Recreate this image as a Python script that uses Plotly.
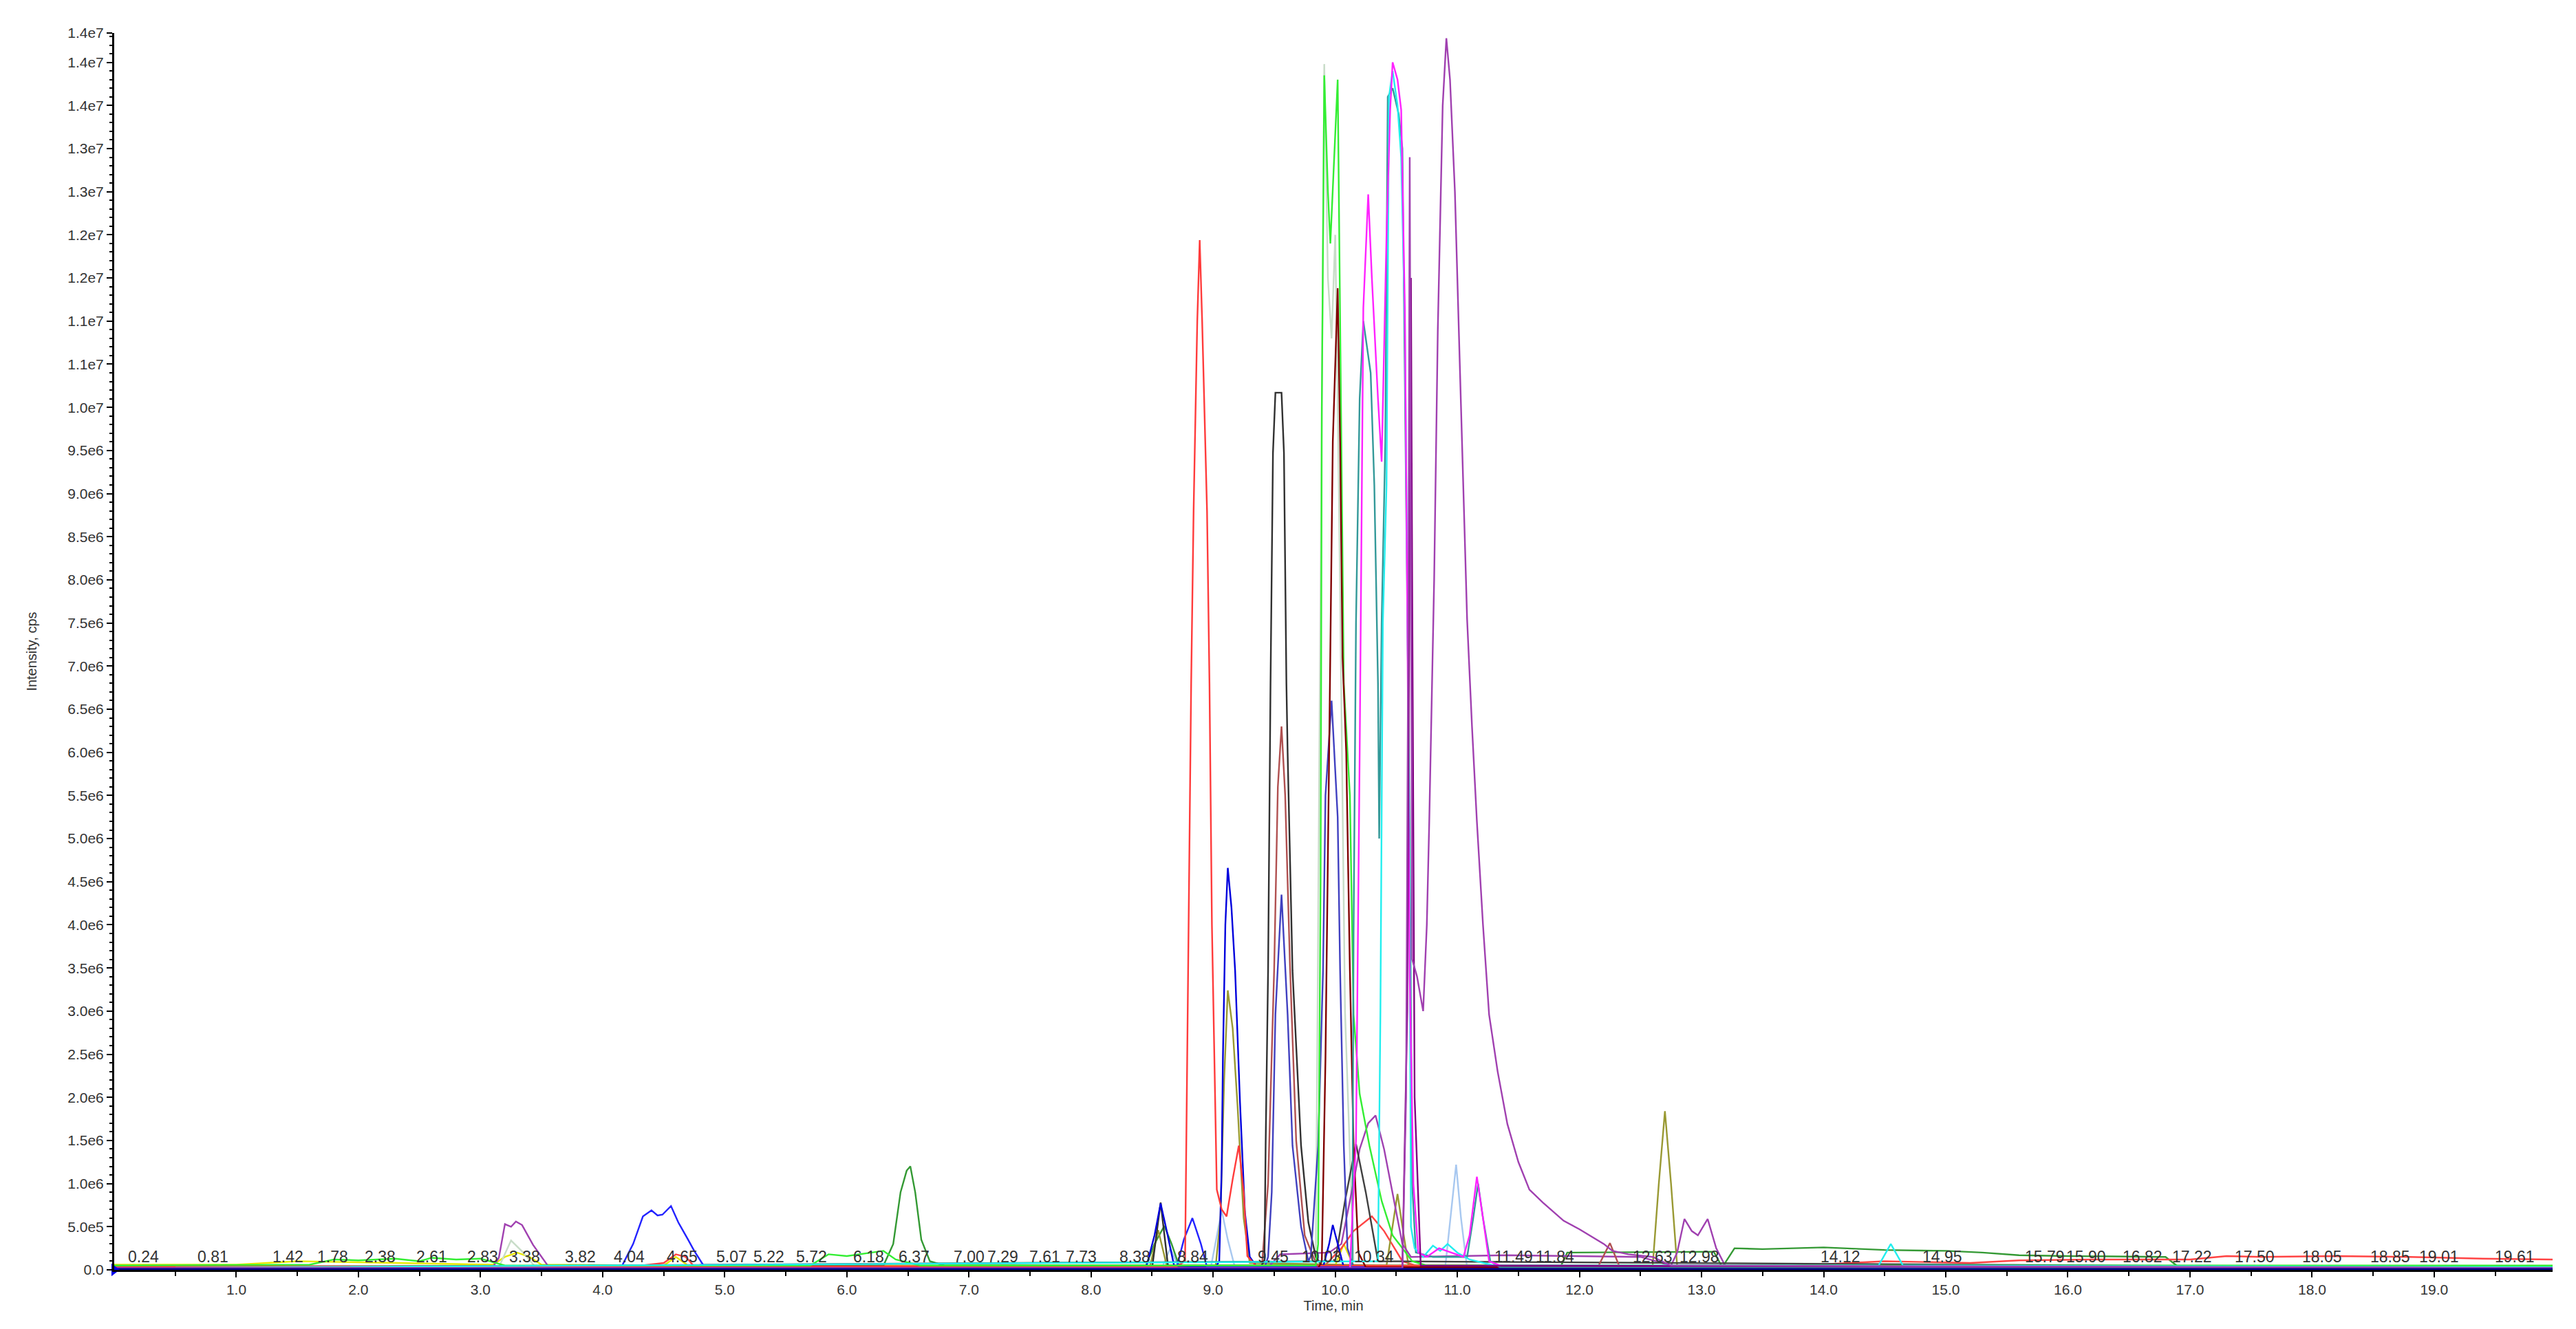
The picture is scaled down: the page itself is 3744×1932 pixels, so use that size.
import plotly.graph_objects as go

# intensities are in millions of cps, times in minutes

red_t = [0, 8.70, 8.77, 8.80, 8.82, 8.84, 8.87, 8.89, 8.91, 8.95, 8.97, 8.99, 9.03, 9.07, 9.11, 9.16, 9.21, 9.25, 9.28, 9.35, 19.97]
red_i = [0.04, 0.04, 0.1, 4.0, 6.8, 8.8, 11.0, 11.94, 11.0, 8.8, 6.8, 4.0, 0.93, 0.7, 0.62, 1.05, 1.44, 0.9, 0.16, 0.05, 0.04]

red2_t = [0, 4.2, 4.5, 4.6, 4.68, 4.75, 4.8, 9.9, 10.05, 10.15, 10.3, 10.4, 10.55, 10.7, 13.5, 14.5, 15.2, 15.6, 16.2, 17.0, 17.3, 17.6, 18.2, 18.8, 19.4, 19.97]
red2_i = [0.03, 0.03, 0.08, 0.18, 0.15, 0.04, 0.03, 0.03, 0.25, 0.45, 0.62, 0.45, 0.1, 0.03, 0.03, 0.1, 0.08, 0.11, 0.12, 0.12, 0.16, 0.15, 0.16, 0.15, 0.13, 0.12]

blue_t = [0, 4.10, 4.16, 4.25, 4.33, 4.40, 4.45, 4.49, 4.56, 4.62, 4.70, 4.75, 4.84, 8.70, 8.76, 8.83, 8.90, 8.95, 19.97]
blue_i = [0.02, 0.02, 0.05, 0.3, 0.62, 0.69, 0.63, 0.64, 0.74, 0.55, 0.35, 0.22, 0.02, 0.02, 0.35, 0.6, 0.3, 0.03, 0.02]

navy_t = [0, 8.45, 8.52, 8.57, 8.62, 8.68, 9.02, 9.05, 9.07, 9.08, 9.10, 9.12, 9.15, 9.18, 9.22, 9.26, 9.30, 9.36, 9.90, 9.95, 9.98, 10.02, 10.07, 19.97]
navy_i = [0.02, 0.02, 0.4, 0.77, 0.45, 0.05, 0.03, 0.1, 1.18, 2.45, 4.0, 4.66, 4.2, 3.47, 1.94, 0.67, 0.15, 0.03, 0.03, 0.3, 0.52, 0.3, 0.03, 0.02]

olive_t = [0, 8.48, 8.55, 8.62, 9.02, 9.06, 9.09, 9.12, 9.16, 9.20, 9.25, 9.30, 10.42, 10.47, 10.51, 10.55, 10.60, 12.60, 12.65, 12.70, 12.75, 12.80, 19.97]
olive_i = [0.02, 0.02, 0.46, 0.05, 0.03, 0.6, 2.2, 3.24, 2.8, 1.9, 0.6, 0.08, 0.05, 0.5, 0.88, 0.5, 0.05, 0.05, 1.0, 1.84, 1.0, 0.05, 0.03]

black_t = [0, 8.50, 8.57, 8.63, 9.38, 9.42, 9.43, 9.45, 9.47, 9.48, 9.49, 9.51, 9.56, 9.58, 9.59, 9.60, 9.61, 9.65, 9.72, 9.78, 9.84, 9.90, 19.97]
black_i = [0.02, 0.02, 0.78, 0.05, 0.02, 0.1, 1.44, 3.47, 6.8, 8.25, 9.47, 10.17, 10.17, 9.47, 8.1, 6.8, 6.0, 3.47, 1.44, 0.55, 0.15, 0.03, 0.02]

gray_t = [0, 10.0, 10.08, 10.17, 10.25, 10.35, 19.97]
gray_i = [0.02, 0.1, 0.8, 1.46, 0.9, 0.1, 0.02]

brown_t = [0, 9.40, 9.45, 9.50, 9.53, 9.56, 9.59, 9.63, 9.68, 9.75, 9.85, 12.15, 12.25, 12.33, 19.97]
brown_i = [0.02, 0.05, 1.0, 3.5, 5.6, 6.3, 5.5, 3.5, 1.5, 0.4, 0.05, 0.03, 0.31, 0.03, 0.02]

maroon_t = [0, 9.86, 9.89, 9.92, 9.95, 9.98, 10.02, 10.04, 10.06, 10.09, 10.12, 10.15, 10.19, 10.25, 19.97]
maroon_i = [0.02, 0.02, 0.1, 2.45, 6.0, 9.6, 11.38, 9.6, 7.1, 6.0, 3.47, 1.44, 0.2, 0.03, 0.02]

slate_t = [0, 9.42, 9.45, 9.48, 9.51, 9.56, 9.61, 9.65, 9.72, 9.78, 9.80, 9.86, 9.90, 9.92, 9.97, 10.02, 10.04, 10.07, 10.10, 10.15, 19.97]
slate_i = [0.02, 0.02, 0.15, 0.9, 2.96, 4.35, 2.96, 1.44, 0.5, 0.1, 0.16, 1.44, 3.47, 5.5, 6.6, 5.25, 3.47, 1.44, 0.25, 0.03, 0.02]

lime_t = [0, 1.6, 1.8, 2.0, 2.3, 2.5, 2.6, 2.8, 3.0, 3.2, 5.7, 5.85, 6.0, 6.2, 6.3, 6.4, 6.6, 9.84, 9.86, 9.88, 9.89, 9.91, 9.94, 9.96, 9.99, 10.02, 10.05, 10.07, 10.12, 10.15, 10.20, 10.28, 10.38, 10.47, 10.63, 10.75, 19.97]
lime_i = [0.05, 0.06, 0.12, 0.11, 0.13, 0.1, 0.14, 0.12, 0.13, 0.05, 0.05, 0.18, 0.16, 0.2, 0.22, 0.12, 0.05, 0.05, 0.3, 4.5, 10.0, 13.85, 12.5, 11.9, 12.8, 13.8, 9.6, 6.8, 5.5, 2.96, 2.04, 1.44, 0.8, 0.4, 0.1, 0.05, 0.05]

pale_t = [0, 3.15, 3.25, 3.35, 3.45, 9.84, 9.88, 9.91, 9.94, 9.97, 10.00, 10.03, 10.08, 10.15, 19.97]
pale_i = [0.03, 0.03, 0.34, 0.2, 0.03, 0.05, 8.0, 13.98, 11.5, 10.8, 12.0, 9.0, 3.0, 0.1, 0.03]

magenta_t = [0, 10.12, 10.17, 10.20, 10.23, 10.27, 10.30, 10.33, 10.35, 10.38, 10.42, 10.45, 10.47, 10.51, 10.54, 10.57, 10.59, 10.61, 10.64, 10.68, 10.75, 10.85, 10.95, 11.05, 11.10, 11.16, 11.21, 11.26, 11.35, 19.97]
magenta_i = [0.02, 0.02, 1.5, 6.0, 11.15, 12.47, 11.5, 10.6, 10.1, 9.37, 12.0, 13.45, 14.0, 13.8, 13.45, 11.15, 7.7, 3.4, 1.0, 0.2, 0.15, 0.25, 0.2, 0.15, 0.4, 1.08, 0.6, 0.1, 0.05, 0.02]

cyan_t = [0, 10.35, 10.37, 10.39, 10.42, 10.44, 10.47, 10.51, 10.54, 10.57, 10.59, 10.61, 10.62, 10.65, 10.72, 10.80, 10.86, 10.92, 11.00, 11.10, 11.30, 14.45, 14.55, 14.65, 19.97]
cyan_i = [0.02, 0.1, 3.0, 7.5, 9.1, 13.6, 13.9, 13.5, 12.9, 11.0, 8.0, 4.0, 0.5, 0.25, 0.15, 0.28, 0.22, 0.3, 0.2, 0.12, 0.05, 0.05, 0.3, 0.05, 0.03]

teal_t = [0, 10.12, 10.14, 10.15, 10.17, 10.20, 10.23, 10.29, 10.32, 10.35, 10.36, 10.38, 10.41, 10.43, 10.47, 10.52, 10.55, 10.58, 10.61, 10.63, 10.66, 10.80, 11.08, 11.13, 11.17, 11.21, 11.27, 11.35, 19.97]
teal_i = [0.02, 0.02, 0.1, 3.9, 7.5, 10.1, 11.0, 10.4, 9.1, 6.8, 5.0, 7.5, 9.6, 13.6, 13.7, 13.4, 13.0, 9.0, 5.0, 1.0, 0.2, 0.15, 0.15, 0.6, 1.0, 0.6, 0.1, 0.03, 0.02]

orchid_t = [0, 10.55, 10.58, 10.60, 10.61, 10.62, 10.63, 10.67, 10.72, 10.75, 10.77, 10.81, 10.84, 10.88, 10.91, 10.94, 10.98, 11.02, 11.05, 11.08, 11.12, 11.16, 11.21, 11.26, 11.33, 11.41, 11.50, 11.59, 11.70, 11.87, 12.00, 12.12, 12.20, 12.27, 12.40, 12.60, 12.75, 19.97]
orchid_i = [0.02, 0.02, 2.0, 8.0, 12.9, 8.0, 3.6, 3.4, 3.0, 4.0, 5.2, 8.0, 10.9, 13.5, 14.28, 13.8, 12.5, 10.5, 9.0, 7.54, 6.3, 5.2, 4.0, 2.96, 2.3, 1.69, 1.25, 0.93, 0.78, 0.57, 0.47, 0.37, 0.3, 0.22, 0.18, 0.15, 0.05, 0.02]

dmag_t = [0, 10.55, 10.59, 10.61, 10.62, 10.63, 10.65, 10.70, 19.97]
dmag_i = [0.02, 0.02, 3.0, 9.0, 11.5, 8.0, 2.0, 0.05, 0.02]

orchid2_t = [0, 3.10, 3.15, 3.20, 3.25, 3.29, 3.34, 3.43, 3.55, 3.65, 9.45, 9.55, 9.95, 10.05, 10.12, 10.20, 10.27, 10.33, 10.40, 10.48, 10.55, 10.62, 11.4, 12.5, 12.75, 12.80, 12.86, 12.92, 12.97, 13.05, 13.12, 13.20, 19.97]
orchid2_i = [0.03, 0.03, 0.14, 0.53, 0.5, 0.56, 0.52, 0.29, 0.05, 0.03, 0.03, 0.18, 0.2, 0.3, 0.8, 1.4, 1.7, 1.79, 1.4, 0.8, 0.3, 0.15, 0.17, 0.15, 0.05, 0.2, 0.59, 0.45, 0.4, 0.59, 0.25, 0.03, 0.03]

green_t = [0, 6.30, 6.38, 6.44, 6.49, 6.52, 6.56, 6.61, 6.68, 6.80, 8.45, 8.52, 8.60, 8.66, 8.72, 11.85, 11.90, 13.10, 13.17, 13.27, 13.50, 14.00, 14.50, 15.00, 15.30, 15.60, 16.00, 16.80, 16.90, 19.97]
green_i = [0.04, 0.05, 0.3, 0.9, 1.15, 1.2, 0.9, 0.35, 0.1, 0.05, 0.05, 0.3, 0.51, 0.3, 0.05, 0.05, 0.2, 0.21, 0.03, 0.25, 0.24, 0.26, 0.23, 0.22, 0.2, 0.17, 0.16, 0.15, 0.04, 0.04]

lblue_t = [0, 8.58, 8.65, 8.72, 8.98, 9.03, 9.07, 9.12, 9.18, 10.90, 10.95, 10.99, 11.03, 11.08, 19.97]
lblue_i = [0.02, 0.02, 0.25, 0.02, 0.02, 0.4, 0.69, 0.35, 0.02, 0.02, 0.7, 1.22, 0.6, 0.02, 0.02]

yellow_t = [0, 1.0, 1.5, 3.1, 3.2, 3.3, 3.4, 3.5, 4.5, 4.6, 4.7, 10.0, 10.07, 10.15, 19.97]
yellow_i = [0.06, 0.06, 0.1, 0.06, 0.15, 0.2, 0.15, 0.06, 0.05, 0.15, 0.05, 0.05, 0.3, 0.05, 0.03]

traces = [
    (yellow_t, yellow_i, "#e8e800"),
    (pale_t, pale_i, "#c8dcc8"),
    (lblue_t, lblue_i, "#a8c8f0"),
    (green_t, green_i, "#339933"),
    (red2_t, red2_i, "#ff4444"),
    (olive_t, olive_i, "#999933"),
    (orchid2_t, orchid2_i, "#a040b0"),
    (gray_t, gray_i, "#404040"),
    (brown_t, brown_i, "#b05050"),
    (black_t, black_i, "#303030"),
    (slate_t, slate_i, "#4040c0"),
    (navy_t, navy_i, "#0000dd"),
    (blue_t, blue_i, "#2222ff"),
    (red_t, red_i, "#ff3b3b"),
    (lime_t, lime_i, "#33ee33"),
    (maroon_t, maroon_i, "#800000"),
    (teal_t, teal_i, "#339999"),
    (cyan_t, cyan_i, "#22eeee"),
    (magenta_t, magenta_i, "#ff22ff"),
    (dmag_t, dmag_i, "#800080"),
    (orchid_t, orchid_i, "#a040b0"),
]

# retention time labels, placed where the software drew them (shifted apart where crowded)
label_t = [0.24, 0.81, 1.42, 1.79, 2.18, 2.60, 3.02, 3.36, 3.82, 4.22, 4.65, 5.06, 5.36, 5.71, 6.18, 6.55,
           7.00, 7.28, 7.62, 7.92, 8.36, 8.83, 9.49, 9.89, 10.32, 11.46, 11.80, 12.60, 12.98, 14.14, 14.97,
           15.81, 16.15, 16.61, 17.02, 17.53, 18.08, 18.64, 19.04, 19.66]
label_text = ["0.24", "0.81", "1.42", "1.78", "2.38", "2.61", "2.83", "3.38", "3.82", "4.04", "4.65", "5.07",
              "5.22", "5.72", "6.18", "6.37", "7.00", "7.29", "7.61", "7.73", "8.38", "8.84", "9.45", "10.03",
              "10.34", "11.49", "11.84", "12.63", "12.98", "14.12", "14.95", "15.79", "15.90", "16.82", "17.22",
              "17.50", "18.05", "18.85", "19.01", "19.61"]

x_tick_text = ["1.0", "2.0", "3.0", "4.0", "5.0", "6.0", "7.0", "8.0", "9.0", "10.0",
               "11.0", "12.0", "13.0", "14.0", "15.0", "16.0", "17.0", "18.0", "19.0"]
y_tick_text = ["0.0", "5.0e5", "1.0e6", "1.5e6", "2.0e6", "2.5e6", "3.0e6", "3.5e6", "4.0e6", "4.5e6",
               "5.0e6", "5.5e6", "6.0e6", "6.5e6", "7.0e6", "7.5e6", "8.0e6", "8.5e6", "9.0e6", "9.5e6",
               "1.0e7", "1.1e7", "1.1e7", "1.2e7", "1.2e7", "1.3e7", "1.3e7", "1.4e7", "1.4e7", "1.4e7"]
y_top = 1.434e7
x_end = 19.97

fig = go.Figure()
for t, inten, col in traces:
    fig.add_trace(go.Scatter(x=t, y=[v * 1e6 for v in inten], mode="lines",
                             line=dict(color=col, width=2.4), showlegend=False, hoverinfo="skip"))

# thick baseline at zero
fig.add_trace(go.Scatter(x=[0, x_end], y=[0, 0], mode="lines", line=dict(color="#000088", width=5),
                         showlegend=False, hoverinfo="skip"))
# start marker
fig.add_trace(go.Scatter(x=[0], y=[0], mode="markers", cliponaxis=False,
                         marker=dict(symbol="triangle-right", color="#0000ee", size=16),
                         showlegend=False, hoverinfo="skip"))

for t, txt in zip(label_t, label_text):
    fig.add_annotation(x=t, y=0.15e6, text=txt, showarrow=False, yanchor="middle",
                       font=dict(size=23, color="#333333"))

font = "Liberation Sans, Arial, sans-serif"
fig.update_layout(
    width=3744, height=1932,
    margin=dict(l=158, r=42, t=40, b=94),
    plot_bgcolor="white", paper_bgcolor="white",
    font=dict(family=font, size=21, color="#333333"),
    xaxis=dict(
        range=[0, x_end], showgrid=False, zeroline=False,
        showline=True, linecolor="black", linewidth=3,
        tickmode="array", tickvals=[float(s) for s in x_tick_text], ticktext=x_tick_text,
        ticks="outside", ticklen=8, tickwidth=2, tickcolor="black",
        minor=dict(tickmode="linear", tick0=0.5, dtick=1.0, ticks="outside", ticklen=6, tickcolor="black"),
        title=dict(text="Time, min", standoff=6, font=dict(size=20)),
    ),
    yaxis=dict(
        range=[0, y_top], showgrid=False, zeroline=False,
        showline=True, linecolor="black", linewidth=3,
        tickmode="array", tickvals=[i * 5e5 for i in range(29)] + [y_top], ticktext=y_tick_text,
        ticks="outside", ticklen=8, tickwidth=2, tickcolor="black",
        minor=dict(tickmode="linear", tick0=0, dtick=1e5, ticks="outside", ticklen=4, tickcolor="black"),
        title=dict(text="Intensity, cps", standoff=40, font=dict(size=20)),
    ),
)

fig.write_html("out.html")
